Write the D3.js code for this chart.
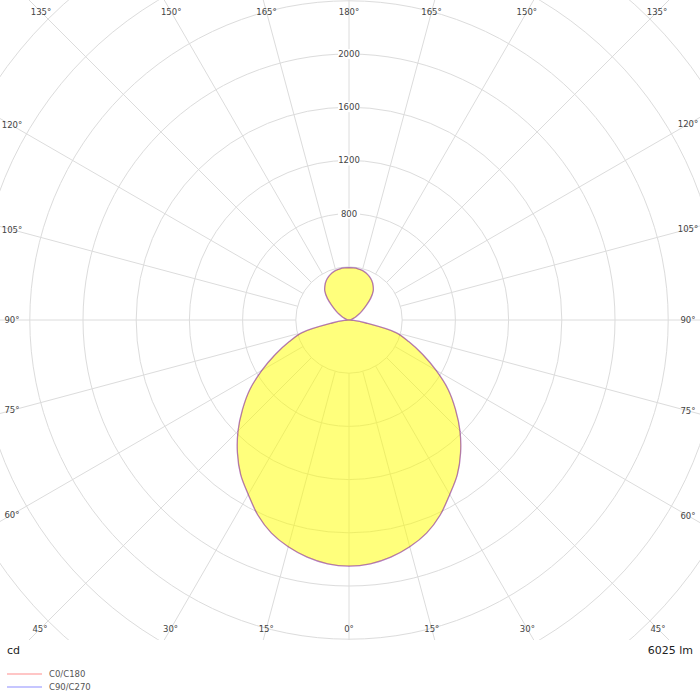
<!DOCTYPE html>
<html><head><meta charset="utf-8">
<script src="https://cdn.jsdelivr.net/npm/d3@7"></script>
<style>html,body{margin:0;padding:0;background:#fff;}svg{display:block;font-family:"DejaVu Sans",sans-serif;}</style>
</head><body>
<svg id="c" width="700" height="700"></svg>
<script>
const gammaAngles = [0,5,10,15,20,25,30,35,40,45,50,55,60,65,70,75,80,85,90,95,100,105,110,115,120,125,130,135,140,145,150,155,160,165,170,175,180];
const c0c180 = [1850,1840,1810,1765,1705,1620,1515,1420,1305,1180,1045,910,755,610,480,365,130,35,0,4,10,20,35,55,85,120,168,230,283,316,342,361,376,386,391,393,393];
const c90c270 = [1850,1840,1810,1765,1705,1620,1515,1420,1305,1180,1045,910,755,610,480,365,130,35,0,4,10,20,35,55,85,120,168,230,283,316,342,361,376,386,391,393,393];
const ringValues = [400,800,1200,1600,2000,2400,2800,3200,3600,4000];
const ringLabels = [800,1200,1600,2000];
const spokeAngles = d3.range(0,360,15);
const angleLabels = [0,15,30,45,60,75,90,105,120,135,150,165,180];
const seriesNames = ["C0/C180","C90/C270"];
const lumenText = "6025 lm";
const unitText = "cd";

const W=700, H=700, cx=349, cy=320;
const svg = d3.select("#c");
const r = d3.scaleLinear().domain([0,2000]).range([0,266]);

svg.append("defs").append("clipPath").attr("id","plot")
  .append("rect").attr("x",0).attr("y",0).attr("width",700).attr("height",640);

const plot = svg.append("g").attr("clip-path","url(#plot)");
const g = plot.append("g").attr("transform",`translate(${cx},${cy})`);

// rings
g.selectAll("circle.ring").data(ringValues).join("circle")
  .attr("r",d=>r(d)).attr("fill","none").attr("stroke","#dcdcdc").attr("stroke-width",1);
// spokes
const rIn = r(ringValues[0]);
g.selectAll("line.spoke").data(spokeAngles).join("line")
  .attr("x1",d=>rIn*Math.sin(d*Math.PI/180)).attr("y1",d=>rIn*Math.cos(d*Math.PI/180))
  .attr("x2",d=>1000*Math.sin(d*Math.PI/180)).attr("y2",d=>1000*Math.cos(d*Math.PI/180))
  .attr("stroke","#dcdcdc").attr("stroke-width",1);

// ring labels
const rl = g.selectAll("g.rl").data(ringLabels).join("g").attr("transform",d=>`translate(0,${-r(d)})`);
rl.append("rect").attr("x",-11).attr("y",-5).attr("width",22).attr("height",10).attr("fill","#fff");
rl.append("text").attr("text-anchor","middle").attr("dy","0.35em").attr("font-size",8.5).attr("fill","#444").text(d=>d);

// curves
function pts(vals){
  const right = gammaAngles.map((a,i)=>({a:Math.PI - a*Math.PI/180, v:vals[i]}));
  const left = gammaAngles.slice().reverse().map((a,j)=>({a:Math.PI + a*Math.PI/180, v:vals[vals.length-1-j]}));
  return right.concat(left.slice(1,-1));
}
const radial = d3.lineRadial().angle(d=>d.a).radius(d=>r(d.v)).curve(d3.curveCatmullRomClosed.alpha(0.5));
const series = [
  {name:seriesNames[0], vals:c0c180, stroke:"rgba(255,0,0,0.3)"},
  {name:seriesNames[1], vals:c90c270, stroke:"rgba(0,0,255,0.3)"}
];
g.selectAll("path.fill").data(series).join("path")
  .attr("d",d=>radial(pts(d.vals))).attr("fill","rgba(255,255,0,0.3)").attr("stroke","none");
g.selectAll("path.line").data(series).join("path")
  .attr("d",d=>radial(pts(d.vals))).attr("fill","none").attr("stroke",d=>d.stroke).attr("stroke-width",1.3);

// angle labels on the border
const x0=12,x1=688,y0=12,y1=629;
function borderPoint(deg, side){
  const t = deg*Math.PI/180;
  const dx = side*Math.sin(t), dy = Math.cos(t);
  let s = Infinity;
  if (dx>1e-9) s=Math.min(s,(x1-cx)/dx);
  if (dx<-1e-9) s=Math.min(s,(x0-cx)/dx);
  if (dy>1e-9) s=Math.min(s,(y1-cy)/dy);
  if (dy<-1e-9) s=Math.min(s,(y0-cy)/dy);
  return [cx+dx*s, cy+dy*s];
}
const lab = [];
angleLabels.forEach(a=>{
  lab.push({a, p:borderPoint(a,-1)});
  if (a!==0 && a!==180) lab.push({a, p:borderPoint(a,1)});
});
svg.selectAll("text.al").data(lab).join("text")
  .attr("x",d=>d.p[0]).attr("y",d=>d.p[1]).attr("text-anchor","middle").attr("dy","0.35em")
  .attr("font-size",8.5).attr("fill","#444").text(d=>d.a+"°");

// bottom texts
svg.append("text").attr("x",7).attr("y",654).attr("font-size",11).attr("fill","#222").text(unitText);
svg.append("text").attr("x",693).attr("y",654).attr("text-anchor","end").attr("font-size",11).attr("fill","#222").text(lumenText);

// legend
const leg = svg.selectAll("g.leg").data(series).join("g").attr("transform",(d,i)=>`translate(7,${674+i*13})`);
leg.append("line").attr("x1",0).attr("x2",35).attr("y1",0).attr("y2",0).attr("stroke",d=>d.stroke).attr("stroke-width",1.5);
leg.append("text").attr("x",42).attr("dy","0.35em").attr("font-size",8.5).attr("fill","#555").text(d=>d.name);
</script>
</body></html>
